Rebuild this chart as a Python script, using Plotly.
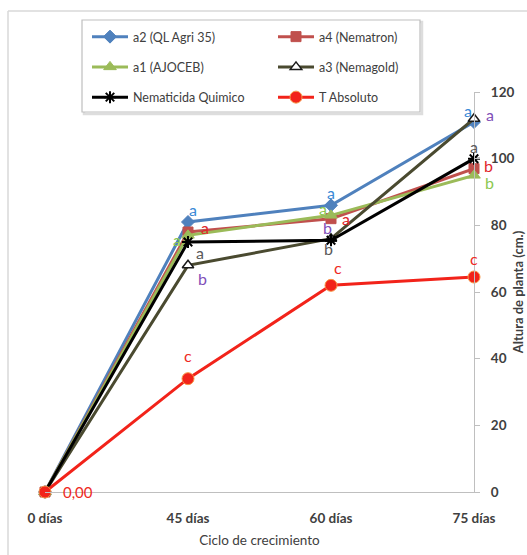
import plotly.graph_objects as go

# ---------------- data ----------------
categories = ["0 días", "45 días", "60 días", "75 días"]
a2_ql = [0, 81, 86, 111]
a4_nematron = [0, 78, 82, 97]
a1_ajoceb = [0, 77, 83, 95]
a3_nemagold = [0, 68, 76, 112]
nem_quimico = [0, 75, 75.5, 100]
t_absoluto = [0, 34, 62, 64.5]

letters_a2 = ["", "a", "a", "a"]
letters_a4 = ["", "a", "a", "b"]
letters_a1 = ["", "a", "a", "b"]
letters_a3 = ["", "b", "b", "a"]
letters_nq = ["", "a", "b", "a"]
letters_ta = ["0,00", "c", "c", "c"]

# ---------------- layout geometry ----------------
W, H = 527, 555
L, R, T, B = 45, 53, 92, 63
pw, ph = W - L - R, H - T - B

def px_x(px):
    return (px - L) / pw

def px_y(py):
    return (H - B - py) / ph

FONT = "Lato"
TXT = "#404040"

fig = go.Figure()

series = [
    dict(name="a2 (QL Agri 35)", y=a2_ql, color="#4F81BD", symbol="diamond", size=10,
         lcolor="#4F81BD", lw=1, legend="legend", rank=1),
    dict(name="a4 (Nematron)", y=a4_nematron, color="#C0504D", symbol="square", size=10,
         lcolor="#C0504D", lw=1, legend="legend2", rank=2),
    dict(name="a1 (AJOCEB)", y=a1_ajoceb, color="#9BBB59", symbol="triangle-up", size=11,
         lcolor="#9BBB59", lw=1, legend="legend", rank=3),
    dict(name="a3 (Nemagold)", y=a3_nemagold, color="#FFFFFF", symbol="triangle-up", size=10,
         lcolor="#1A1A1A", lw=1.5, linecolor="#4A4A30", legend="legend2", rank=4),
    dict(name="Nematicida Quimico", y=nem_quimico, color="#000000", symbol="asterisk-open", size=10,
         lcolor="#000000", lw=2, legend="legend", rank=5),
    dict(name="T Absoluto", y=t_absoluto, color="#F2231A", symbol="circle", size=12,
         lcolor="#F79646", lw=1, legend="legend2", rank=6),
]

for s in series:
    fig.add_trace(go.Scatter(
        x=categories, y=s["y"], name=s["name"], mode="lines+markers",
        line=dict(color=s.get("linecolor", s["color"]), width=3),
        marker=dict(color=s["color"], symbol=s["symbol"], size=s["size"],
                    line=dict(color=s["lcolor"], width=s["lw"])),
        cliponaxis=False, legend=s["legend"], legendgroup=s["name"], legendrank=s["rank"],
    ))

# ---------------- letter annotations ----------------
label_sets = [
    (a2_ql, letters_a2, "#3A8AD6", [(0, 0), (5, 13), (0, 13), (-6, 12)]),
    (a4_nematron, letters_a4, "#E0262B", [(0, 0), (17, 5), (15, 0), (14, 3)]),
    (a1_ajoceb, letters_a1, "#8CC850", [(0, 0), (-11, -4), (-8, 7), (15, -7)]),
    (a3_nemagold, letters_a3, "#7F4FB8", [(0, 0), (14, -13), (-4, 11), (16, 4)]),
    (nem_quimico, letters_nq, "#595959", [(0, 0), (12, -10), (-3, -8), (0, 12)]),
    (t_absoluto, letters_ta, "#EE2A1E", [(33, 0), (0, 23), (7, 18), (0, 19)]),
]
for yvals, letters, col, offs in label_sets:
    for i, (cat, yv, lt) in enumerate(zip(categories, yvals, letters)):
        if not lt:
            continue
        fig.add_annotation(x=cat, y=yv, text=lt, showarrow=False,
                           xshift=offs[i][0], yshift=offs[i][1],
                           font=dict(family=FONT, size=16 if lt != "0,00" else 15, color=col))

# ---------------- frame & legend box ----------------
fig.add_shape(type="line", xref="paper", yref="paper", x0=px_x(8), x1=px_x(530),
              y0=px_y(11), y1=px_y(11), line=dict(color="#D9D9D9", width=1.5))
fig.add_shape(type="line", xref="paper", yref="paper", x0=px_x(8), x1=px_x(8),
              y0=px_y(11), y1=px_y(560), line=dict(color="#D9D9D9", width=1.5))
fig.add_shape(type="rect", xref="paper", yref="paper", x0=px_x(84), x1=px_x(422),
              y0=px_y(22), y1=px_y(114), line=dict(color="#DDDDDD", width=2.5))
fig.add_shape(type="rect", xref="paper", yref="paper", x0=px_x(82), x1=px_x(420),
              y0=px_y(20), y1=px_y(112), line=dict(color="#BFBFBF", width=1.2),
              fillcolor="white")

legend_common = dict(
    orientation="v", bgcolor="rgba(0,0,0,0)", borderwidth=0,
    font=dict(family=FONT, size=12.5, color=TXT), itemwidth=36,
    traceorder="grouped", tracegroupgap=11, xanchor="left", yanchor="top",
)

fig.update_layout(
    width=W, height=H,
    margin=dict(l=L, r=R, t=T, b=B, autoexpand=False),
    paper_bgcolor="white", plot_bgcolor="white",
    font=dict(family=FONT, color=TXT),
    showlegend=True,
    legend=dict(x=px_x(87), y=px_y(22), **legend_common),
    legend2=dict(x=px_x(273), y=px_y(22), **legend_common),
    xaxis=dict(
        type="category", categoryorder="array", categoryarray=categories,
        range=[0, 3], showgrid=False, zeroline=False, automargin=False,
        showline=True, linecolor="#BFBFBF", linewidth=1.2,
        ticks="", tickfont=dict(family=FONT, size=13.5, color=TXT, weight="bold"),
        ticklabelstandoff=14,
        title=dict(text="Ciclo de crecimiento", font=dict(family=FONT, size=13.5, color=TXT), standoff=10),
    ),
    yaxis=dict(
        range=[0, 120], dtick=20, side="right", showgrid=False, zeroline=False, automargin=False,
        showline=True, linecolor="#BFBFBF", linewidth=1.2,
        ticks="outside", ticklen=5, tickcolor="#BFBFBF",
        tickfont=dict(family=FONT, size=13.5, color=TXT, weight="bold"),
        ticklabelstandoff=8,
        title=dict(text="Altura de planta (cm.)", font=dict(family=FONT, size=13, color=TXT, weight="bold"), standoff=0),
    ),
)

fig.write_html("out.html")
